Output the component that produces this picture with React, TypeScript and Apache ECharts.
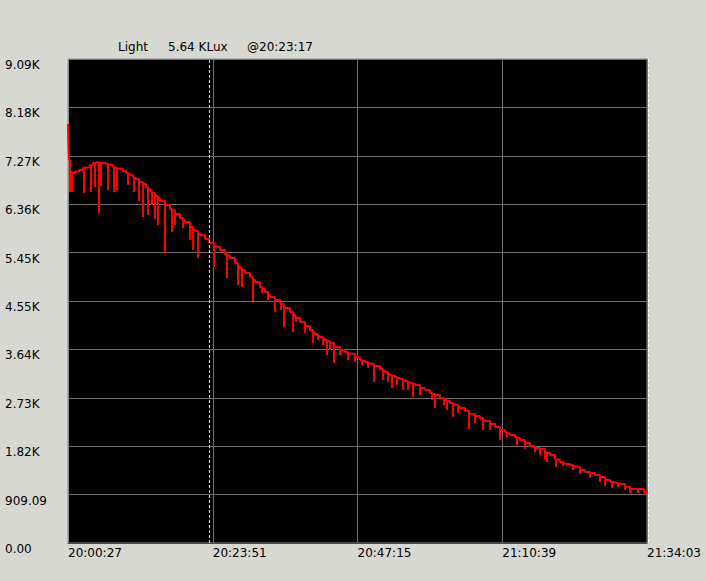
import React, { useEffect, useRef } from "react";
import * as echarts from "echarts";

// seconds after 20:00:27
const startClock = 20 * 3600 + 27;
const spanSeconds = 5616;
const tickSeconds = 1404;
const cursorSeconds = 1370; // 20:23:17

const yMax = 9090.9;
const yStep = 909.09;

const titleName = "Light";
const titleValue = "5.64 KLux";
const titleTime = "@20:23:17";

const baseTime = [
  0, 5, 10, 19, 39, 68, 107, 146, 175, 213, 243, 272, 301, 330, 369, 407, 437, 466, 495, 534,
  563, 601, 631, 660, 689, 728, 757, 795, 825, 854, 892, 941, 989, 1038, 1086, 1135, 1183, 1232,
  1280, 1329, 1370, 1426, 1474, 1523, 1571, 1620, 1668, 1717, 1765, 1814, 1862, 1911, 1959, 2008,
  2056, 2105, 2153, 2202, 2250, 2299, 2347, 2396, 2444, 2493, 2541, 2590, 2638, 2687, 2735, 2784,
  2832, 2881, 2929, 2978, 3026, 3075, 3123, 3172, 3220, 3269, 3317, 3366, 3414, 3463, 3511, 3560,
  3608, 3657, 3705, 3754, 3802, 3851, 3899, 3948, 3996, 4045, 4093, 4142, 4190, 4239, 4287, 4336,
  4384, 4433, 4481, 4530, 4578, 4627, 4675, 4724, 4772, 4821, 4869, 4918, 4966, 5015, 5063, 5112,
  5160, 5209, 5257, 5306, 5354, 5403, 5451, 5500, 5548, 5587, 5616,
];
const baseLux = [
  7869, 7437, 7193, 6967, 6949, 6980, 7005, 7043, 7061, 7099, 7136, 7150, 7136, 7140, 7118, 7099, 7061, 7043, 7024, 6986,
  6949, 6911, 6873, 6836, 6780, 6742, 6686, 6611, 6573, 6517, 6423, 6348, 6273, 6179, 6104, 6028, 5934, 5859,
  5784, 5709, 5640, 5559, 5503, 5427, 5352, 5258, 5165, 5071, 4995, 4902, 4808, 4714, 4620, 4564,
  4507, 4413, 4338, 4244, 4150, 4075, 4000, 3925, 3869, 3812, 3756, 3681, 3625, 3587, 3549, 3493,
  3437, 3399, 3362, 3324, 3268, 3211, 3155, 3117, 3080, 3042, 3005, 2967, 2911, 2873, 2817, 2779,
  2723, 2686, 2629, 2592, 2535, 2479, 2423, 2385, 2348, 2291, 2235, 2178, 2122, 2085, 2028, 1991,
  1934, 1878, 1822, 1784, 1765, 1709, 1653, 1578, 1521, 1484, 1465, 1427, 1371, 1333, 1315, 1277,
  1239, 1183, 1146, 1127, 1108, 1052, 1014, 1014, 1014, 958, 995,
];

// deep downward dips: time, level before the dip, dip bottom
const dipTime = [
  19, 39, 155, 223, 262, 301, 320, 388, 446, 475, 582, 640, 689, 728, 776, 815, 844, 873, 941, 1009,
  1038, 1116, 1183, 1213, 1261, 1416, 1542, 1649, 1688, 1795, 2008, 2095, 2183, 2377, 2425, 2512,
  2580, 2638, 2716, 2968, 3056, 3143, 3250, 3347, 3560, 3647, 3735, 3890, 4026, 4190, 4578, 4646,
  4899, 5277, 5451, 5597,
];
const dipFrom = [
  6967, 6949, 7050, 7100, 7136, 7136, 7136, 7110, 7055, 7035, 6930, 6860, 6780, 6742, 6650, 6590, 6535, 6480, 6348, 6250,
  6179, 6060, 5934, 5880, 5800, 5570, 5400, 5200, 5130, 4940, 4564, 4430, 4290, 3955, 3890, 3790,
  3700, 3625, 3560, 3330, 3235, 3140, 3060, 2985, 2779, 2695, 2600, 2430, 2310, 2122, 1765, 1690,
  1440, 1140, 1014, 960,
];
const dipTo = [
  6592, 6592, 6573, 6592, 6686, 6197, 6704, 6629, 6592, 6629, 6723, 6592, 6423, 6122, 6160, 6348, 6085, 5972, 5446, 5841,
  5972, 5916, 5690, 5503, 5352, 5183, 4977, 4845, 4808, 4545, 4338, 4056, 3963, 3756, 3812, 3531,
  3380, 3531, 3437, 3024, 3061, 2911, 2873, 2742, 2535, 2592, 2366, 2141, 2122, 1934, 1653, 1521,
  1371, 1033, 939, 901,
];

// shallow dips in the second half
const smallDipTime = [
  1882, 1940, 2066, 2212, 2299, 2474, 2541, 2784, 2852, 2910, 3104, 3191, 3298, 3414, 3531, 3676,
  3783, 3948, 4093, 4258, 4355, 4433, 4530, 4627, 4734, 4802, 4966, 5063, 5160, 5209, 5335, 5403, 5529,
];
const smallDipFrom = [
  4770, 4655, 4490, 4225, 4075, 3835, 3756, 3493, 3420, 3370, 3175, 3100, 3020, 2911, 2800, 2665,
  2560, 2385, 2235, 2060, 1970, 1878, 1784, 1709, 1570, 1500, 1371, 1315, 1239, 1183, 1115, 1052, 1014,
];
const smallDipTo = [
  4695, 4564, 4376, 4150, 3944, 3718, 3625, 3399, 3343, 3287, 3024, 2967, 2873, 2779, 2686, 2498,
  2441, 2254, 2122, 1991, 1840, 1765, 1709, 1578, 1427, 1446, 1296, 1221, 1146, 1070, 1052, 995, 939,
];

const FONT = "DejaVu Sans";

function clock(v: number): string {
  const s = Math.round(startClock + v);
  const h = Math.floor(s / 3600);
  const m = Math.floor((s % 3600) / 60);
  const sec = s % 60;
  const p = (n: number) => String(n).padStart(2, "0");
  return `${p(h)}:${p(m)}:${p(sec)}`;
}

function luxLabel(v: number): string {
  if (v >= 1000) return (v / 1000).toFixed(2) + "K";
  return v.toFixed(2);
}

export default function App() {
  const ref = useRef<HTMLDivElement>(null);
  useEffect(() => {
    document.body.style.margin = "0";
    if (!ref.current) return;
    const chart = echarts.init(ref.current, undefined, { renderer: "svg" });

    const pts: { t: number; v: number; o: number }[] = [];
    baseTime.forEach((t, i) => pts.push({ t, v: baseLux[i], o: 0 }));
    const addDips = (times: number[], from: number[], to: number[]) =>
      times.forEach((t, i) => {
        pts.push({ t, v: from[i], o: 1 });
        pts.push({ t, v: to[i], o: 2 });
        pts.push({ t, v: from[i], o: 3 });
      });
    addDips(dipTime, dipFrom, dipTo);
    addDips(smallDipTime, smallDipFrom, smallDipTo);
    pts.sort((a, b) => a.t - b.t || a.o - b.o);
    const data = pts.map((p) => [p.t, p.v]);

    chart.setOption({
      animation: false,
      backgroundColor: "#d8d8d2",
      textStyle: { fontFamily: FONT },
      grid: {
        left: 68,
        top: 59,
        right: 59,
        bottom: 38,
        show: true,
        backgroundColor: "#000000",
        borderColor: "#8a8a8a",
        borderWidth: 1,
      },
      xAxis: {
        type: "value",
        min: 0,
        max: spanSeconds,
        interval: tickSeconds,
        axisLine: { show: true, lineStyle: { color: "#ff0000", width: 1 } },
        axisTick: { show: false },
        splitLine: { show: true, lineStyle: { color: "#707070", width: 1 } },
        axisLabel: {
          formatter: (v: number) => clock(v),
          align: "left",
          margin: 4,
          color: "#000000",
          fontSize: 12,
          fontFamily: FONT,
          showMaxLabel: true,
          showMinLabel: true,
        },
      },
      yAxis: {
        type: "value",
        min: 0,
        max: yMax,
        interval: yStep,
        axisLine: { show: true, lineStyle: { color: "#8a8a8a" } },
        axisTick: { show: false },
        splitLine: { show: true, lineStyle: { color: "#707070", width: 1 } },
        axisLabel: {
          formatter: (v: number) => luxLabel(v),
          align: "left",
          verticalAlign: "top",
          margin: 63,
          color: "#000000",
          fontSize: 12,
          fontFamily: FONT,
          showMaxLabel: true,
        },
      },
      series: [
        {
          type: "line",
          data,
          step: "end",
          symbol: "none",
          lineStyle: { color: "#ff0000", width: 2 },
          itemStyle: { color: "#ff0000" },
          markLine: {
            silent: true,
            symbol: ["none", "none"],
            label: { show: false },
            lineStyle: { color: "#b8e2ea", type: [3, 2], width: 1 },
            data: [{ xAxis: cursorSeconds }],
          },
        },
      ],
      graphic: [
        {
          type: "text",
          left: 118,
          top: 41,
          style: { text: titleName, fill: "#000", font: `12px "${FONT}"` },
        },
        {
          type: "text",
          left: 168,
          top: 41,
          style: { text: titleValue, fill: "#000", font: `12px "${FONT}"` },
        },
        {
          type: "text",
          left: 247,
          top: 41,
          style: { text: titleTime, fill: "#000", font: `12px "${FONT}"` },
        },
        {
          type: "line",
          shape: { x1: 648.5, y1: 59, x2: 648.5, y2: 543 },
          style: { stroke: "#ffffff", lineWidth: 1, lineDash: [3, 2] },
        },
      ],
    });
    return () => chart.dispose();
  }, []);
  return (
    <div
      ref={ref}
      style={{ position: "fixed", left: 0, top: 0, width: 706, height: 581 }}
    />
  );
}
